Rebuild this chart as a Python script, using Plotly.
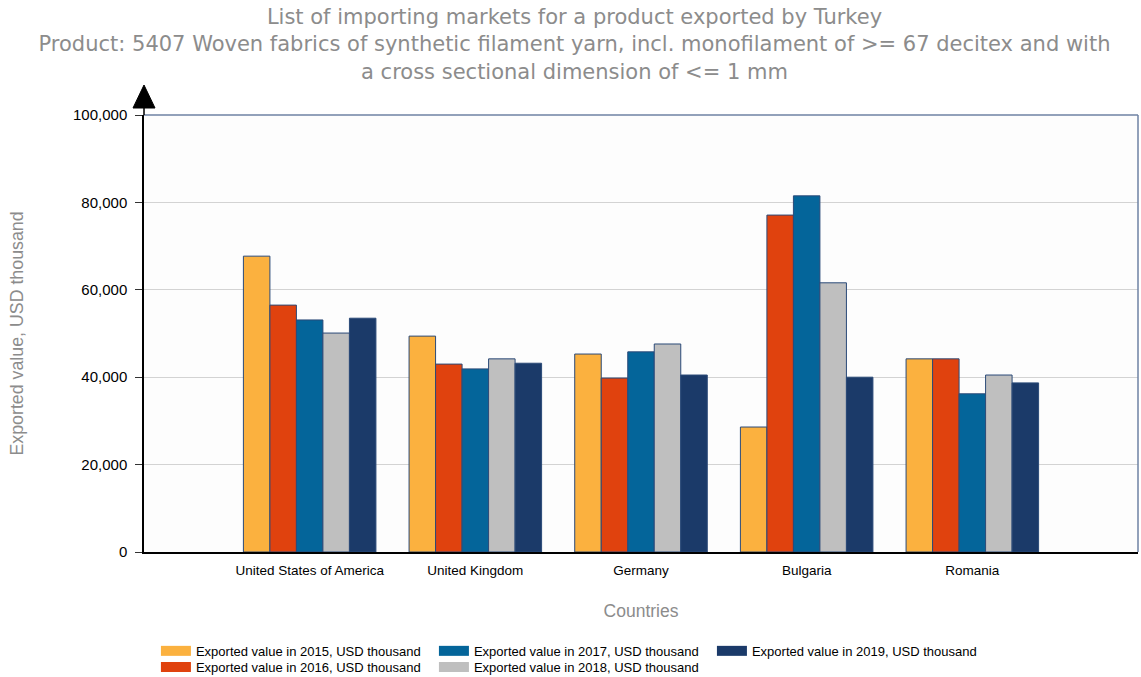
import plotly.graph_objects as go

countries = ["United States of America", "United Kingdom", "Germany", "Bulgaria", "Romania"]
years = ["2015", "2016", "2017", "2018", "2019"]
v2015 = [67700, 49400, 45300, 28600, 44200]
v2016 = [56500, 43000, 39800, 77100, 44200]
v2017 = [53100, 41900, 45800, 81500, 36200]
v2018 = [50100, 44200, 47600, 61600, 40500]
v2019 = [53500, 43200, 40500, 40000, 38700]
series = [v2015, v2016, v2017, v2018, v2019]
colors = ["#FBB13F", "#E0420E", "#04659A", "#BFBFBF", "#1B3A69"]
legend_ids = ["legend", "legend2", "legend", "legend2", "legend"]

xpos = list(range(1, len(countries) + 1))
fig = go.Figure()
for y, vals, c in zip(years, series, colors):
    fig.add_trace(go.Bar(
        x=xpos, y=vals, name=f"Exported value in {y}, USD thousand",
        marker=dict(color=c, line=dict(color="#2B4A78", width=1)),
        showlegend=False,
    ))
# legend-only entries drawn as wide swatches
for y, c, lg in zip(years, colors, legend_ids):
    fig.add_trace(go.Scatter(
        x=[None], y=[None], mode="lines", name=f"Exported value in {y}, USD thousand",
        line=dict(color=c, width=12), legend=lg, hoverinfo="skip",
    ))

leg_font = dict(family="Liberation Sans, Arial", size=13, color="#000000")
common_leg = dict(orientation="h", font=leg_font, bgcolor="rgba(0,0,0,0)",
                  yanchor="top", xanchor="left", x=0.012,
                  entrywidth=233, entrywidthmode="pixels", itemwidth=30)

W, H = 1141, 677
fig.update_layout(
    width=W, height=H,
    paper_bgcolor="#FFFFFF", plot_bgcolor="#FDFDFD",
    margin=dict(l=144, r=3, t=115, b=125, autoexpand=False),
    barmode="group", bargap=0.2, bargroupgap=0,
    title=dict(
        text="List of importing markets for a product exported by Turkey<br>"
             "Product: 5407 Woven fabrics of synthetic filament yarn, incl. monofilament of >= 67 decitex and with<br>"
             "a cross sectional dimension of <= 1 mm",
        font=dict(family="DejaVu Sans, Verdana", size=21, color="#8C8C8C"),
        x=574.5 / W, xanchor="center", xref="container",
        y=1 - 24 / H, yanchor="top", yref="container",
    ),
    xaxis=dict(
        range=[0, 6], tickvals=xpos, ticktext=countries, automargin=False,
        showgrid=False, zeroline=False,
        showline=True, linecolor="#000000", linewidth=1.5, mirror=False,
        ticks="", ticklabelstandoff=5,
        tickfont=dict(family="Liberation Sans, Arial", size=13.5, color="#000000"),
        title=dict(text="Countries", font=dict(family="Liberation Sans, Arial", size=17.5, color="#8C8C8C"), standoff=28),
    ),
    yaxis=dict(
        range=[0, 100000], dtick=20000, tickformat=",d", automargin=False,
        showgrid=True, gridcolor="#D3D3D3", gridwidth=1, zeroline=False,
        showline=True, linecolor="#000000", linewidth=1.5,
        ticks="outside", ticklen=7, tickcolor="#333333", ticklabelstandoff=5,
        tickfont=dict(family="Liberation Sans, Arial", size=15, color="#000000"),
        title=dict(text="Exported value, USD thousand", font=dict(family="Liberation Sans, Arial", size=17.8, color="#8C8C8C"), standoff=45),
    ),
    legend=dict(common_leg, y=-0.192),
    legend2=dict(common_leg, y=-0.229),
)

# top and right frame of plot area
fig.add_shape(type="line", xref="paper", yref="paper", x0=0, x1=1, y0=1, y1=1,
              line=dict(color="#6E82A3", width=1.5))
fig.add_shape(type="line", xref="paper", yref="paper", x0=1, x1=1, y0=0, y1=1,
              line=dict(color="#6E82A3", width=1.5))
# y-axis extension and arrow head
fig.add_shape(type="line", xref="paper", yref="paper", xsizemode="pixel", ysizemode="pixel",
              xanchor=0, yanchor=1, x0=0, x1=0, y0=0, y1=28, line=dict(color="#000000", width=1.5))
fig.add_shape(type="path", xref="paper", yref="paper", xsizemode="pixel", ysizemode="pixel",
              xanchor=0, yanchor=1, path="M -11,7 L 11,7 L 0,30 Z",
              fillcolor="#000000", line=dict(color="#000000", width=1))

fig.write_html("out.html", config={"displayModeBar": False},
               post_script="document.body.style.margin='0px';")
